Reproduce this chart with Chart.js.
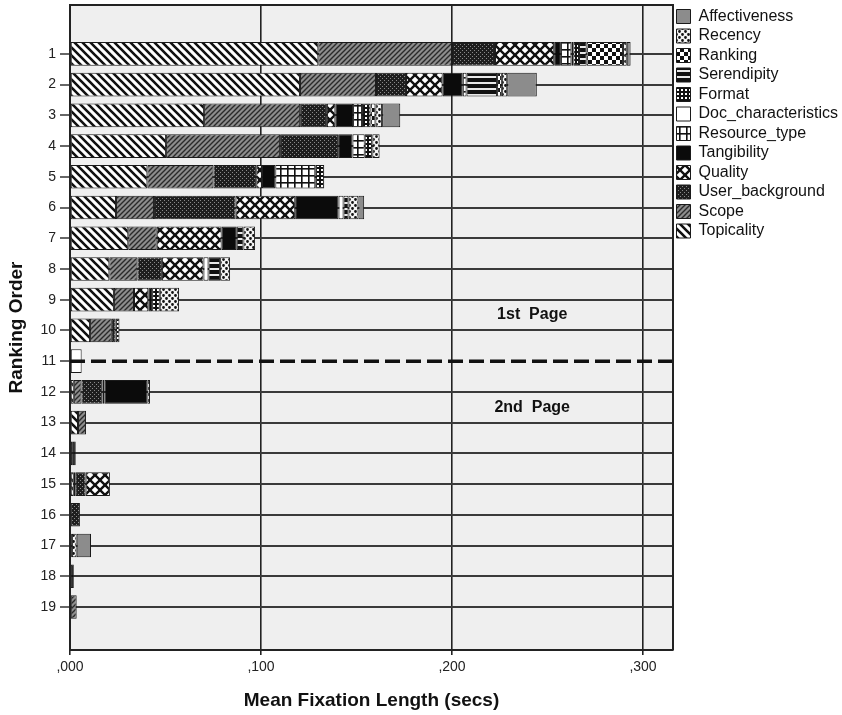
<!DOCTYPE html>
<html>
<head>
<meta charset="utf-8">
<script src="https://cdn.jsdelivr.net/npm/chart.js@4/dist/chart.umd.min.js"></script>
<style>
  html, body { margin: 0; padding: 0; background: #fff; }
  #wrap { width: 842px; height: 715px; }
</style>
</head>
<body>
<div id="wrap"><canvas id="c" width="842" height="715"></canvas></div>
<script>
// ---------- data ----------
const rowLabels = [1,2,3,4,5,6,7,8,9,10,11,12,13,14,15,16,17,18,19];
const xTickValues = [0, 0.1, 0.2, 0.3];
const seriesNames = ['Topicality','Scope','User_background','Quality','Tangibility','Resource_type',
                     'Doc_characteristics','Format','Serendipity','Ranking','Recency','Affectiveness'];

const topicality      = [0.130, 0.1204, 0.0702, 0.0503, 0.0405, 0.0241, 0.0305, 0.0206, 0.023, 0.0105, null, 0.002, 0.0042, null, 0.002, null, null, null, null];
const scope           = [0.070, 0.0398, 0.0503, 0.0597, 0.0346, 0.0199, 0.0149, 0.0147, 0.0105, 0.0114, null, 0.004, 0.0042, 0.0015, 0.001, null, null, null, 0.0035];
const userBackground  = [0.0225, 0.0157, 0.014, 0.0304, 0.0224, 0.0427, null, 0.0128, null, 0.002, null, 0.011, null, null, 0.0052, 0.0052, null, null, null];
const quality         = [0.031, 0.0192, 0.0044, null, 0.003, 0.0312, 0.034, 0.0218, 0.0075, null, null, 0.001, null, null, 0.0127, null, null, null, null];
const tangibility     = [0.0035, 0.0105, 0.0093, 0.0075, 0.007, 0.0227, 0.0079, null, 0.002, null, null, 0.0225, null, 0.0015, null, null, 0.001, 0.002, null];
const resourceType    = [0.0055, 0.002, 0.0047, 0.0064, 0.0209, null, null, null, null, null, null, null, null, null, null, null, null, null, null];
const docCharacteristics = [0.001, null, null, null, null, 0.0026, null, 0.0026, null, null, 0.0061, null, null, null, null, null, null, null, null];
const formatVals      = [0.003, null, 0.0044, 0.004, 0.0047, null, null, null, 0.004, 0.002, null, null, null, null, null, null, null, null, null];
const serendipity     = [0.004, 0.016, null, null, null, 0.0026, 0.0035, 0.0061, null, null, null, null, null, null, null, null, null, null, null];
const ranking         = [0.019, 0.0025, 0.0026, null, null, null, null, null, null, null, null, null, null, null, null, null, null, null, null];
const recency         = [0.002, 0.0028, 0.0035, 0.0038, null, 0.0052, 0.0061, 0.0052, 0.0101, null, null, 0.0014, null, null, null, null, 0.0025, null, null];
const affectiveness   = [0.002, 0.0155, 0.0095, null, null, 0.003, null, null, null, null, null, null, null, null, null, null, 0.0075, null, null];

const seriesValues = [topicality, scope, userBackground, quality, tangibility, resourceType,
                      docCharacteristics, formatVals, serendipity, ranking, recency, affectiveness];

const pageBreakRow = 11;
const pageTexts = ['1st  Page', '2nd  Page'];

// ---------- patterns ----------
const FONT = "'Liberation Sans', Arial, Helvetica, sans-serif";
Chart.defaults.font.family = FONT;

function tile(w, h, draw) {
  const c = document.createElement('canvas');
  c.width = w; c.height = h;
  const g = c.getContext('2d');
  draw(g, w, h);
  return g.createPattern(c, 'repeat');
}
function diag(g, s, dir) { // dir 1: "\" ; dir -1: "/"
  g.beginPath();
  for (let k = -2; k <= 2; k++) {
    if (dir === 1) { g.moveTo(k * s - s, -s); g.lineTo(k * s + 2 * s, 2 * s); }
    else { g.moveTo(k * s - s, 2 * s); g.lineTo(k * s + 2 * s, -s); }
  }
  g.stroke();
}
const fills = {
  Topicality: tile(8, 8, (g, w, h) => { g.fillStyle = '#fff'; g.fillRect(0,0,w,h); g.strokeStyle = '#111'; g.lineWidth = 2.6; diag(g, 8, 1); }),
  Scope: tile(5, 5, (g, w, h) => { g.fillStyle = '#8d8d8d'; g.fillRect(0,0,w,h); g.strokeStyle = '#2a2a2a'; g.lineWidth = 1.4; diag(g, 5, -1); }),
  User_background: tile(4, 4, (g, w, h) => { g.fillStyle = '#1e1e1e'; g.fillRect(0,0,w,h); g.fillStyle = '#8a8a8a'; g.fillRect(0,0,1,1); g.fillRect(2,2,1,1); }),
  Quality: tile(10, 10, (g, w, h) => { g.fillStyle = '#fff'; g.fillRect(0,0,w,h); g.strokeStyle = '#111'; g.lineWidth = 2.4; diag(g, 10, 1); diag(g, 10, -1); }),
  Tangibility: '#0b0b0b',
  Resource_type: tile(7, 7, (g, w, h) => { g.fillStyle = '#fff'; g.fillRect(0,0,w,h); g.fillStyle = '#111'; g.fillRect(0,0,w,1.6); g.fillRect(0,0,1.6,h); }),
  Doc_characteristics: '#ffffff',
  Format: tile(4, 4, (g, w, h) => { g.fillStyle = '#111'; g.fillRect(0,0,w,h); g.fillStyle = '#fff'; g.fillRect(1,1,2,2); }),
  Serendipity: tile(4, 6, (g, w, h) => { g.fillStyle = '#111'; g.fillRect(0,0,w,h); g.fillStyle = '#e8e8e8'; g.fillRect(0,4,w,2); }),
  Ranking: tile(8, 8, (g, w, h) => { g.fillStyle = '#fff'; g.fillRect(0,0,w,h); g.fillStyle = '#111'; g.fillRect(0,0,4,4); g.fillRect(4,4,4,4); }),
  Recency: tile(6, 6, (g, w, h) => { g.fillStyle = '#f4f4f4'; g.fillRect(0,0,w,h); g.fillStyle = '#111';
    g.beginPath(); g.arc(1.5,1.5,1.4,0,Math.PI*2); g.arc(4.5,4.5,1.4,0,Math.PI*2); g.fill(); }),
  Affectiveness: '#8c8c8c'
};

const datasets = seriesNames.map((name, i) => ({
  label: name,
  data: seriesValues[i],
  backgroundColor: fills[name],
  borderColor: '#1a1a1a',
  borderWidth: 1,
  borderSkipped: false,
  categoryPercentage: 1,
  barPercentage: 0.77
}));

// ---------- decorations ----------
const deco = {
  id: 'deco',
  beforeDraw(chart) {
    const {ctx, chartArea: a} = chart;
    ctx.save();
    ctx.fillStyle = '#ffffff';
    ctx.fillRect(0, 0, chart.width, chart.height);
    ctx.fillStyle = '#efefef';
    ctx.fillRect(a.left, a.top, a.right - a.left, a.bottom - a.top);
    ctx.restore();
  },
  afterDatasetsDraw(chart) {
    const {ctx, chartArea: a, scales} = chart;
    const yb = scales.y.getPixelForValue(pageBreakRow);
    ctx.save();
    ctx.strokeStyle = '#111';
    ctx.lineWidth = 3.5;
    ctx.setLineDash([15, 6]);
    ctx.beginPath();
    ctx.moveTo(a.left, yb);
    ctx.lineTo(a.right, yb);
    ctx.stroke();
    ctx.setLineDash([]);
    ctx.fillStyle = '#111';
    ctx.font = 'bold 16px ' + FONT;
    ctx.textAlign = 'center';
    ctx.textBaseline = 'middle';
    const xp = scales.x.getPixelForValue(0.242);
    ctx.fillText(pageTexts[0], xp, scales.y.getPixelForValue(pageBreakRow - 1.5));
    ctx.fillText(pageTexts[1], xp, scales.y.getPixelForValue(pageBreakRow + 1.5));
    ctx.restore();
  },
  afterDraw(chart) {
    const {ctx, chartArea: a} = chart;
    ctx.save();
    ctx.strokeStyle = '#222';
    ctx.lineWidth = 2;
    ctx.beginPath();
    ctx.moveTo(a.left, a.top);
    ctx.lineTo(a.right, a.top);
    ctx.lineTo(a.right, a.bottom);
    ctx.stroke();
    ctx.restore();
  }
};

new Chart(document.getElementById('c'), {
  type: 'bar',
  data: { labels: rowLabels, datasets },
  plugins: [deco],
  options: {
    indexAxis: 'y',
    responsive: false,
    animation: false,
    devicePixelRatio: 1,
    layout: { padding: { top: 5, left: 0, right: 0, bottom: 0 } },
    plugins: {
      tooltip: { enabled: false },
      legend: {
        position: 'right',
        align: 'start',
        reverse: true,
        maxWidth: 169,
        labels: {
          boxWidth: 14,
          boxHeight: 14,
          padding: 3.5,
          color: '#111',
          font: { size: 16, family: FONT }
        }
      }
    },
    scales: {
      x: {
        type: 'linear',
        min: 0,
        max: 0.3157,
        stacked: true,
        afterBuildTicks: s => { s.ticks = xTickValues.map(v => ({ value: v })); },
        afterFit: s => { s.height = 65; },
        ticks: {
          callback: v => ',' + Number(v).toFixed(3).split('.')[1],
          color: '#222',
          font: { size: 14 },
          padding: 4,
          maxRotation: 0
        },
        grid: {
          color: c => (c.tick && c.tick.value === 0) ? 'rgba(0,0,0,0)' : '#222',
          lineWidth: 1.6,
          tickLength: 5,
          tickColor: '#222'
        },
        border: { color: '#222', width: 2 },
        title: {
          display: true,
          text: 'Mean Fixation Length (secs)',
          color: '#111',
          font: { size: 19, weight: 'bold' },
          padding: { top: 4, bottom: 3 }
        }
      },
      y: {
        type: 'linear',
        reverse: true,
        offset: false,
        min: -0.59,
        max: 20.4,
        stacked: true,
        afterBuildTicks: s => { s.ticks = rowLabels.map(v => ({ value: v })); },
        afterFit: s => { s.width = 70; s.paddingTop = 0; s.paddingBottom = 0; },
        ticks: {
          callback: v => String(v),
          color: '#222',
          font: { size: 14 },
          padding: 4,
          autoSkip: false
        },
        grid: {
          offset: false,
          color: c => (c.tick && c.tick.value === pageBreakRow) ? 'rgba(0,0,0,0)' : '#3a3a3a',
          lineWidth: 2,
          tickLength: 10,
          tickColor: '#333',
          tickWidth: 1.5
        },
        border: { color: '#222', width: 2 },
        title: {
          display: true,
          text: 'Ranking Order',
          color: '#111',
          font: { size: 19, weight: 'bold' },
          padding: { top: 5, bottom: 0 }
        }
      }
    }
  }
});
</script>
</body>
</html>
